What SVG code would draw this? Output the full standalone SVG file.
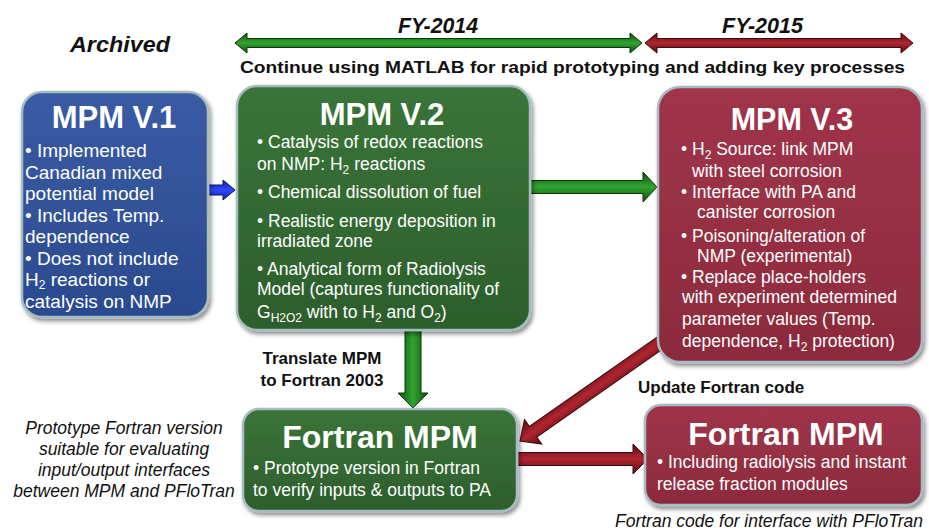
<svg xmlns="http://www.w3.org/2000/svg" width="929" height="531" viewBox="0 0 929 531">
<style>
.t{font-family:"Liberation Sans",Arial,sans-serif;fill:#fff}
.title{font-weight:bold;text-anchor:middle}
.b19{font-size:19px}
.b17{font-size:17.5px}
.lab{font-family:"Liberation Sans",Arial,sans-serif;fill:#111;font-weight:bold;font-size:17px}
.it{font-family:"Liberation Sans",Arial,sans-serif;fill:#111;font-style:italic;font-size:17.5px}
.hdr{font-family:"Liberation Sans Narrow","Liberation Sans",Arial,sans-serif;fill:#111;font-weight:bold;font-style:italic;font-size:22px}
.box{stroke:#a7bcc2;stroke-width:2.5;filter:url(#sh)}
.ga{fill:url(#gG);stroke:#0a360a;stroke-width:1}
.ra{fill:url(#gR);stroke:#3a0a0e;stroke-width:1}
.ba{fill:url(#gB);stroke:#0b1570;stroke-width:1}
</style>
<defs>
<filter id="sh" x="-10%" y="-10%" width="125%" height="125%">
<feDropShadow dx="2" dy="3" stdDeviation="2" flood-color="#000" flood-opacity="0.45"/>
</filter>
<linearGradient id="fB" x1="0" y1="0" x2="0" y2="1"><stop offset="0" stop-color="#3a5ba4"/><stop offset="1" stop-color="#2a4a8e"/></linearGradient>
<linearGradient id="fG" x1="0" y1="0" x2="0" y2="1"><stop offset="0" stop-color="#3a7438"/><stop offset="1" stop-color="#2c5e2c"/></linearGradient>
<linearGradient id="fR" x1="0" y1="0" x2="0" y2="1"><stop offset="0" stop-color="#a0344a"/><stop offset="1" stop-color="#8c2b3c"/></linearGradient>
<linearGradient id="gG" x1="0" y1="0" x2="0" y2="1"><stop offset="0" stop-color="#0f4f0f"/><stop offset="0.5" stop-color="#2fa52f"/><stop offset="1" stop-color="#0f4f0f"/></linearGradient>
<linearGradient id="gR" x1="0" y1="0" x2="0" y2="1"><stop offset="0" stop-color="#5a0a10"/><stop offset="0.5" stop-color="#b02630"/><stop offset="1" stop-color="#5a0a10"/></linearGradient>
<linearGradient id="gB" x1="0" y1="0" x2="0" y2="1"><stop offset="0" stop-color="#1020a0"/><stop offset="0.5" stop-color="#3048ff"/><stop offset="1" stop-color="#1020a0"/></linearGradient>
</defs>
<rect width="929" height="531" fill="#fff"/>

<g id="header">
<text class="hdr" x="70" y="52" textLength="100" lengthAdjust="spacingAndGlyphs">Archived</text>
<text class="hdr" x="398" y="33" textLength="80" lengthAdjust="spacingAndGlyphs">FY-2014</text>
<text class="hdr" x="722" y="33" textLength="81" lengthAdjust="spacingAndGlyphs">FY-2015</text>
<polygon class="ga" points="235,43 247,33 247,38.5 630,38.5 630,33 642,43 630,53 630,47.5 247,47.5 247,53"/>
<polygon class="ra" points="645,43 657,33 657,38.5 901,38.5 901,33 913,43 901,53 901,47.5 657,47.5 657,53"/>
<text class="lab" x="240" y="73" font-size="19" textLength="665" lengthAdjust="spacingAndGlyphs">Continue using MATLAB for rapid prototyping and adding key processes</text>
</g>

<g id="connectors">
<polygon class="ba" transform="translate(208,190)" points="0,-5 15,-5 15,-10 27,0 15,10 15,5 0,5"/>
<polygon class="ga" transform="translate(530,187)" points="0,-6.5 113,-6.5 113,-15 127,0 113,15 113,6.5 0,6.5"/>
<polygon class="ga" transform="translate(413,330) rotate(90)" points="0,-8 63,-8 63,-15 78,0 63,15 63,8 0,8"/>
<polygon class="ra" transform="translate(520,441) rotate(-35)" points="0,0 16,-15 16,-6.5 190,-6.5 190,6.5 16,6.5 16,15"/>
<polygon class="ra" transform="translate(517,459)" points="0,-6.5 116,-6.5 116,-15 131,0 116,15 116,6.5 0,6.5"/>
<text class="lab" x="322" y="364" text-anchor="middle">Translate MPM</text>
<text class="lab" x="322" y="386" text-anchor="middle">to Fortran 2003</text>
<text class="lab" x="638" y="393">Update Fortran code</text>
</g>

<g id="mpm-v1">
<rect class="box" x="22" y="92" width="186" height="225" rx="20" fill="url(#fB)"/>
<text class="t title" x="114" y="128" font-size="31">MPM V.1</text>
<text class="t b19" x="25" y="157">• Implemented</text>
<text class="t b19" x="25" y="179">Canadian mixed</text>
<text class="t b19" x="25" y="200">potential model</text>
<text class="t b19" x="25" y="222">• Includes Temp.</text>
<text class="t b19" x="25" y="243">dependence</text>
<text class="t b19" x="25" y="265">• Does not include</text>
<text class="t b19" x="25" y="286">H<tspan font-size="12" dy="3">2</tspan><tspan dy="-3"> reactions or</tspan></text>
<text class="t b19" x="25" y="308">catalysis on NMP</text>
</g>

<g id="mpm-v2">
<rect class="box" x="237" y="86" width="293" height="244" rx="20" fill="url(#fG)"/>
<text class="t title" x="382" y="125" font-size="31">MPM V.2</text>
<text class="t b17" x="257" y="148">• Catalysis of redox reactions</text>
<text class="t b17" x="257" y="170">on NMP: H<tspan font-size="12" dy="4">2</tspan><tspan dy="-4"> reactions</tspan></text>
<text class="t b17" x="257" y="198">• Chemical dissolution of fuel</text>
<text class="t b17" x="257" y="227">• Realistic energy deposition in</text>
<text class="t b17" x="257" y="247">irradiated zone</text>
<text class="t b17" x="257" y="275">• Analytical form of Radiolysis</text>
<text class="t b17" x="257" y="295">Model (captures functionality of</text>
<text class="t b17" x="257" y="318">G<tspan font-size="12" dy="4">H2O2</tspan><tspan dy="-4"> with to H</tspan><tspan font-size="12" dy="4">2</tspan><tspan dy="-4"> and O</tspan><tspan font-size="12" dy="4">2</tspan><tspan dy="-4">)</tspan></text>
</g>

<g id="mpm-v3">
<rect class="box" x="658" y="87" width="264" height="275" rx="22" fill="url(#fR)"/>
<text class="t title" x="792" y="130" font-size="30.5">MPM V.3</text>
<text class="t b17" x="681" y="155">• H<tspan font-size="12" dy="4">2</tspan><tspan dy="-4"> Source: link MPM</tspan></text>
<text class="t b17" x="692" y="177">with steel corrosion</text>
<text class="t b17" x="681" y="198">• Interface with PA and</text>
<text class="t b17" x="697" y="218">canister corrosion</text>
<text class="t b17" x="681" y="242">• Poisoning/alteration of</text>
<text class="t b17" x="697" y="262">NMP (experimental)</text>
<text class="t b17" x="681" y="283">• Replace place-holders</text>
<text class="t b17" x="682" y="303">with experiment determined</text>
<text class="t b17" x="682" y="325">parameter values (Temp.</text>
<text class="t b17" x="682" y="347">dependence, H<tspan font-size="12" dy="4">2</tspan><tspan dy="-4"> protection)</tspan></text>
</g>

<g id="fortran-mpm-green">
<rect class="box" x="243" y="409" width="274" height="102" rx="16" fill="url(#fG)"/>
<text class="t title" x="380" y="448" font-size="32">Fortran MPM</text>
<text class="t b17" x="253" y="474">• Prototype version in Fortran</text>
<text class="t b17" x="253" y="496">to verify inputs &amp; outputs to PA</text>
</g>

<g id="fortran-mpm-red">
<rect class="box" x="645" y="405" width="277" height="100" rx="16" fill="url(#fR)"/>
<text class="t title" x="786" y="445" font-size="32">Fortran MPM</text>
<text class="t b17" x="657" y="468">• Including radiolysis and instant</text>
<text class="t b17" x="657" y="490">release fraction modules</text>
</g>

<g id="notes">
<text class="it" x="124" y="434" text-anchor="middle">Prototype Fortran version</text>
<text class="it" x="124" y="455" text-anchor="middle">suitable for evaluating</text>
<text class="it" x="124" y="476" text-anchor="middle">input/output interfaces</text>
<text class="it" x="124" y="497" text-anchor="middle">between MPM and PFloTran</text>
<text class="it" x="615" y="527">Fortran code for interface with PFloTran</text>
</g>
</svg>
